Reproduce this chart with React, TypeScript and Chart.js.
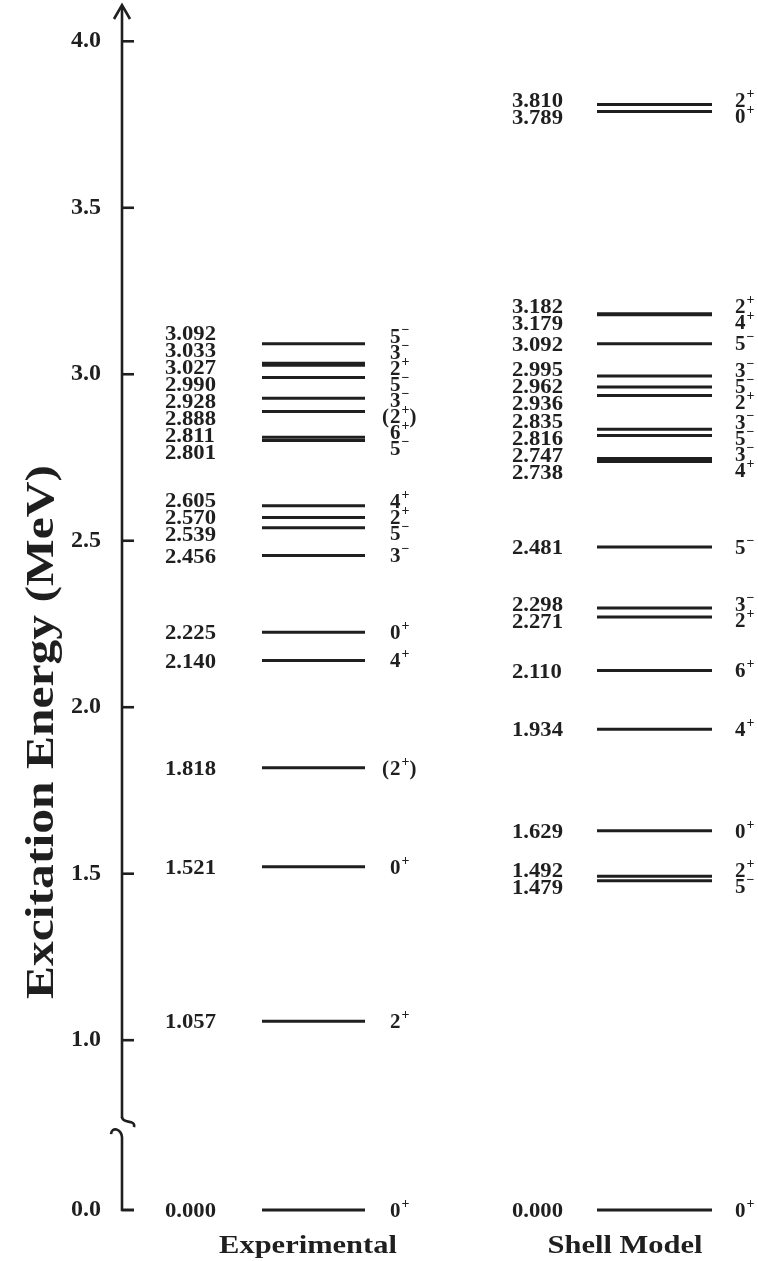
import { useEffect, useRef } from 'react';
import { Chart, registerables } from 'chart.js';

Chart.register(...registerables);

// ---------- data ----------
const expEnergies = [0.0, 1.057, 1.521, 1.818, 2.14, 2.225, 2.456, 2.539, 2.57, 2.605, 2.801, 2.811, 2.888, 2.928, 2.99, 3.027, 3.033, 3.092];
const expSpins = ['0+', '2+', '0+', '(2+)', '4+', '0+', '3-', '5-', '2+', '4+', '5-', '6+', '(2+)', '3-', '5-', '2+', '3-', '5-'];
const smEnergies = [0.0, 1.479, 1.492, 1.629, 1.934, 2.11, 2.271, 2.298, 2.481, 2.738, 2.747, 2.816, 2.835, 2.936, 2.962, 2.995, 3.092, 3.179, 3.182, 3.789, 3.81];
const smSpins = ['0+', '5-', '2+', '0+', '4+', '6+', '2+', '3-', '5-', '4+', '3-', '5-', '3-', '2+', '5-', '3-', '5-', '4+', '2+', '0+', '2+'];
const columnNames = ['Experimental', 'Shell Model'];
const tickEnergies = [0.0, 1.0, 1.5, 2.0, 2.5, 3.0, 3.5, 4.0];
const tickLabels = ['0.0', '1.0', '1.5', '2.0', '2.5', '3.0', '3.5', '4.0'];
const axisTitle = 'Excitation Energy (MeV)';

// ---------- layout / style ----------
const W = 758;
const H = 1261;
const AXIS_X = 122;
const INK = '#1f1f1f';
const FONT = "'Liberation Serif', 'Times New Roman', serif";
const Y_MAX = 4.1;
const BREAK_SQUEEZE = 0.51; // below 1.0 MeV the axis is broken and compressed

const toDisplay = (e: number) => (e >= 1 ? e : 1 - (1 - e) * BREAK_SQUEEZE);

const columns = [
  { energies: expEnergies, spins: expSpins, name: columnNames[0], x0: 140, x1: 243, labelX: 43, spinX: 268, nameX: 186 },
  { energies: smEnergies, spins: smSpins, name: columnNames[1], x0: 475, x1: 590, labelX: 390, spinX: 613, nameX: 503 },
];

const E_SIZE = 21;
const E_SX = 1.08;
const S_SIZE = 20;
const S_SX = 1.05;
const SUP_SIZE = 14;

function drawText(ctx: CanvasRenderingContext2D, text: string, x: number, y: number, size: number, sx: number, align: 'left' | 'right' | 'center') {
  ctx.save();
  ctx.font = `bold ${size}px ${FONT}`;
  const w = ctx.measureText(text).width * sx;
  const left = align === 'left' ? x : align === 'right' ? x - w : x - w / 2;
  ctx.translate(left, y);
  ctx.scale(sx, 1);
  ctx.textAlign = 'left';
  ctx.textBaseline = 'alphabetic';
  ctx.fillStyle = INK;
  ctx.fillText(text, 0, 0);
  ctx.restore();
  return w;
}

function drawSpin(ctx: CanvasRenderingContext2D, spin: string, x: number, yc: number) {
  const m = spin.match(/^(\(?)(\d+)([+-])(\)?)$/);
  if (!m) return;
  const base = yc + 0.34 * S_SIZE;
  let cx = x;
  if (m[1]) drawText(ctx, '(', cx - 1, base, S_SIZE, S_SX, 'right');
  cx += drawText(ctx, m[2], cx, base, S_SIZE, S_SX, 'left');
  const sup = m[3] === '+' ? '+' : '\u2212';
  cx += 1 + drawText(ctx, sup, cx + 1, base - 9, SUP_SIZE, 1, 'left');
  if (m[4]) drawText(ctx, ')', cx, base, S_SIZE, S_SX, 'left');
}

function spread(ys: number[], gap: number): number[] {
  const order = ys.map((_, i) => i).sort((a, b) => ys[a] - ys[b]);
  const groups = order.map((i) => ({ idx: [i], mean: ys[i] }));
  let changed = true;
  while (changed) {
    changed = false;
    for (let k = 0; k < groups.length - 1; k++) {
      const a = groups[k];
      const b = groups[k + 1];
      const aBottom = a.mean + ((a.idx.length - 1) * gap) / 2;
      const bTop = b.mean - ((b.idx.length - 1) * gap) / 2;
      if (bTop - aBottom < gap) {
        const idx = a.idx.concat(b.idx);
        const mean = idx.reduce((s, i) => s + ys[i], 0) / idx.length;
        groups.splice(k, 2, { idx, mean });
        changed = true;
        break;
      }
    }
  }
  const out: number[] = new Array(ys.length);
  groups.forEach((g) => g.idx.forEach((i, j) => (out[i] = g.mean + (j - (g.idx.length - 1) / 2) * gap)));
  return out;
}

const levelPlugin = {
  id: 'levelScheme',
  afterDatasetsDraw(chart: any) {
    const ctx: CanvasRenderingContext2D = chart.ctx;
    const ys = chart.scales.y;
    const xs = chart.scales.x;
    const area = chart.chartArea;
    const ax = AXIS_X;

    ctx.save();
    ctx.strokeStyle = INK;
    ctx.lineWidth = 2.6;
    ctx.lineCap = 'butt';

    // axis with break
    const pOne = ys.getPixelForValue(toDisplay(1.0));
    const pZero = ys.getPixelForValue(toDisplay(0));
    const mid = (pOne + pZero) / 2 + 3;
    ctx.beginPath();
    ctx.moveTo(ax, area.top - 2);
    ctx.lineTo(ax, mid - 10);
    ctx.stroke();
    ctx.beginPath();
    ctx.moveTo(ax, mid - 11);
    ctx.bezierCurveTo(ax, mid - 4, ax + 14, mid - 9, ax + 12, mid - 1);
    ctx.stroke();
    ctx.beginPath();
    ctx.moveTo(ax - 11, mid + 6);
    ctx.bezierCurveTo(ax - 10, mid - 2, ax - 1, mid + 1, ax, mid + 9);
    ctx.lineTo(ax, pZero);
    ctx.lineTo(ax + 12, pZero);
    ctx.stroke();

    // arrow head
    ctx.beginPath();
    ctx.moveTo(ax - 8, area.top + 11);
    ctx.lineTo(ax, area.top - 3);
    ctx.lineTo(ax + 8, area.top + 11);
    ctx.stroke();

    // ticks inside
    tickEnergies.forEach((e) => {
      const p = ys.getPixelForValue(toDisplay(e));
      ctx.beginPath();
      ctx.moveTo(ax, p);
      ctx.lineTo(ax + 12, p);
      ctx.stroke();
    });
    ctx.restore();

    // level labels
    columns.forEach((col) => {
      const py = col.energies.map((e) => ys.getPixelForValue(toDisplay(e)));
      const eY = spread(py, 17);
      const sY = spread(py, 16);
      const lx = xs.getPixelForValue(col.labelX);
      const sx = xs.getPixelForValue(col.spinX);
      col.energies.forEach((e, i) => {
        drawText(ctx, e.toFixed(3), lx, eY[i] + 0.34 * E_SIZE, E_SIZE, E_SX, 'left');
        drawSpin(ctx, col.spins[i], sx, sY[i]);
      });
      drawText(ctx, col.name, xs.getPixelForValue(col.nameX), area.bottom + 43, 25, 1.22, 'center');
    });

    // axis title
    ctx.save();
    ctx.translate(40, 732);
    ctx.rotate(-Math.PI / 2);
    ctx.font = `bold 41px ${FONT}`;
    const tw = ctx.measureText(axisTitle).width;
    ctx.scale(534 / tw, 1);
    ctx.fillStyle = INK;
    ctx.textAlign = 'center';
    ctx.textBaseline = 'alphabetic';
    ctx.fillText(axisTitle, 0, 13);
    ctx.restore();
  },
};

export default function App() {
  const ref = useRef<HTMLCanvasElement | null>(null);

  useEffect(() => {
    document.body.style.margin = '0';
    const canvas = ref.current;
    if (!canvas) return;

    const datasets: any[] = [];
    columns.forEach((col) => {
      col.energies.forEach((e) => {
        datasets.push({
          data: [
            { x: col.x0, y: toDisplay(e) },
            { x: col.x1, y: toDisplay(e) },
          ],
          showLine: true,
          borderColor: INK,
          borderWidth: 3,
          pointRadius: 0,
          fill: false,
          clip: false,
        });
      });
    });

    const chart = new Chart(canvas, {
      type: 'scatter',
      data: { datasets },
      options: {
        responsive: false,
        animation: false,
        devicePixelRatio: 1,
        layout: { padding: { top: 8, bottom: 51, left: 0, right: 0 } },
        plugins: { legend: { display: false }, tooltip: { enabled: false } },
        scales: {
          x: { type: 'linear', min: 0, max: W - AXIS_X, display: false },
          y: {
            type: 'linear',
            position: 'left',
            min: toDisplay(0),
            max: Y_MAX,
            grid: { display: false },
            border: { display: false },
            title: { display: false },
            ticks: {
              autoSkip: false,
              padding: 13,
              color: INK,
              font: { family: FONT, weight: 'bold', size: 24 },
              callback: (_v: any, i: number) => tickLabels[i],
            },
            afterBuildTicks: (s: any) => {
              s.ticks = tickEnergies.map((e) => ({ value: toDisplay(e) }));
            },
            afterFit: (s: any) => {
              s.width = AXIS_X;
              s.paddingTop = 0;
              s.paddingBottom = 0;
            },
          },
        },
      } as any,
      plugins: [levelPlugin],
    });

    return () => chart.destroy();
  }, []);

  return (
    <div style={{ width: W, height: H, background: '#fff' }}>
      <canvas ref={ref} width={W} height={H} style={{ width: W, height: H, display: 'block' }} />
    </div>
  );
}
